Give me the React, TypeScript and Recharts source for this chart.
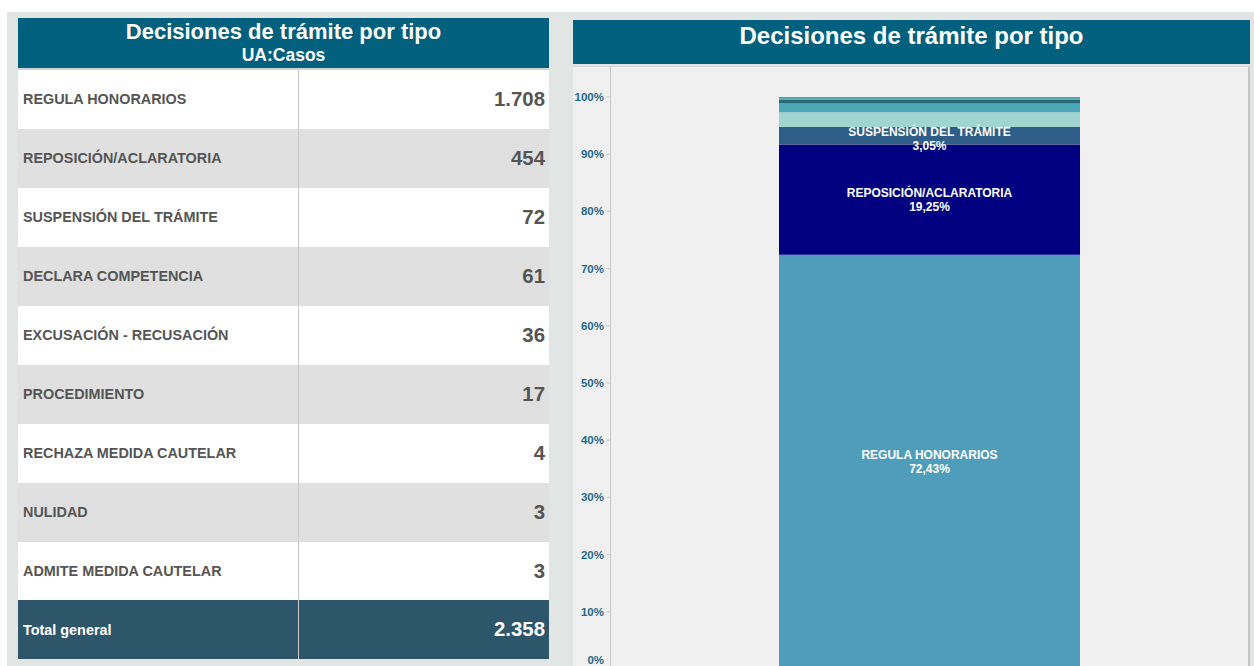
import { BarChart, Bar, XAxis, YAxis, LabelList } from "recharts";

const categories = [
  "REGULA HONORARIOS",
  "REPOSICIÓN/ACLARATORIA",
  "SUSPENSIÓN DEL TRÁMITE",
  "DECLARA COMPETENCIA",
  "EXCUSACIÓN - RECUSACIÓN",
  "PROCEDIMIENTO",
  "RECHAZA MEDIDA CAUTELAR",
  "NULIDAD",
  "ADMITE MEDIDA CAUTELAR",
];
const casos = [1708, 454, 72, 61, 36, 17, 4, 3, 3];
const labeledSegments = [0, 1, 2];
const yTicks = [0, 0.1, 0.2, 0.3, 0.4, 0.5, 0.6, 0.7, 0.8, 0.9, 1];

const colors = [
  "#4f9dba",
  "#000080",
  "#2e5e87",
  "#a1d5d2",
  "#4ba6b8",
  "#2b6876",
  "#3a9aa6",
  "#1f9aa2",
  "#1b8f9c",
];

const total = casos.reduce((a, b) => a + b, 0);
const fmtNum = (n: number) => String(n).replace(/\B(?=(\d{3})+(?!\d))/g, ".");
const fmtPct = (n: number) => ((n / total) * 100).toFixed(2).replace(".", ",") + "%";

const chartData = [
  categories.reduce(
    (row: any, _c, i) => {
      row["s" + i] = casos[i];
      return row;
    },
    { name: "Casos" }
  ),
];

const FONT = "Arial, 'Liberation Sans', sans-serif";

function segLabel(i: number) {
  return (props: any) => {
    const { x, y, width, height } = props;
    const cx = Number(x) + Number(width) / 2;
    // small segments: label sits a bit lower, like the original
    const cy = Number(y) + Number(height) / 2 + (Number(height) < 30 ? 3 : 0);
    return (
      <g>
        <text x={cx} y={cy - 3} textAnchor="middle" fill="#fff" fontSize={12} fontWeight="bold" fontFamily={FONT}>
          {categories[i]}
        </text>
        <text x={cx} y={cy + 11} textAnchor="middle" fill="#fff" fontSize={12} fontWeight="bold" fontFamily={FONT}>
          {fmtPct(casos[i])}
        </text>
      </g>
    );
  };
}

function YTick(props: any) {
  const { x, y, payload } = props;
  const shift = payload.value === 0 ? -9 : 0;
  return (
    <text
      x={x}
      y={Number(y) + shift}
      dy={4}
      textAnchor="end"
      fill="#1f6a8c"
      fontSize={11.5}
      fontWeight="bold"
      fontFamily={FONT}
    >
      {Math.round(payload.value * 100) + "%"}
    </text>
  );
}

export default function App() {
  const rowH = 59;
  return (
    <div
      style={{
        position: "absolute",
        left: 0,
        top: 0,
        width: 1254,
        height: 666,
        overflow: "hidden",
        background: "#fff",
        fontFamily: FONT,
      }}
    >
      <div style={{ position: "absolute", left: 7, top: 12, width: 1247, height: 660, background: "#e1e5e4" }} />

      {/* left table */}
      <div
        style={{
          position: "absolute",
          left: 18,
          top: 18,
          width: 531,
          height: 50,
          background: "#00607d",
          color: "#fff",
          textAlign: "center",
          fontWeight: "bold",
        }}
      >
        <div style={{ fontSize: 22, lineHeight: "26px", marginTop: 1 }}>Decisiones de trámite por tipo</div>
        <div style={{ fontSize: 17.5, lineHeight: "20px" }}>UA:Casos</div>
      </div>
      <div style={{ position: "absolute", left: 18, top: 68, width: 531, height: 2, background: "#d0d4d4" }} />
      {categories.map((c, i) => (
        <div
          key={c}
          style={{
            position: "absolute",
            left: 18,
            top: 70 + i * rowH,
            width: 531,
            height: rowH,
            background: i % 2 === 0 ? "#ffffff" : "#e0e0e0",
            color: "#555",
            fontWeight: "bold",
          }}
        >
          <div style={{ position: "absolute", left: 5, top: 0, lineHeight: rowH + "px", fontSize: 14.4 }}>{c}</div>
          <div style={{ position: "absolute", right: 4, top: 0, lineHeight: rowH + "px", fontSize: 20.4 }}>
            {fmtNum(casos[i])}
          </div>
        </div>
      ))}
      <div
        style={{
          position: "absolute",
          left: 18,
          top: 70 + categories.length * rowH - 1,
          width: 531,
          height: rowH,
          background: "#2e566b",
          color: "#fff",
          fontWeight: "bold",
        }}
      >
        <div style={{ position: "absolute", left: 5, top: 1, lineHeight: rowH + "px", fontSize: 14.4 }}>Total general</div>
        <div style={{ position: "absolute", right: 4, top: 0, lineHeight: rowH + "px", fontSize: 20.4 }}>
          {fmtNum(total)}
        </div>
      </div>
      <div style={{ position: "absolute", left: 298, top: 70, width: 1, height: 589, background: "#c8c8c8" }} />

      {/* right chart */}
      <div
        style={{
          position: "absolute",
          left: 573,
          top: 20,
          width: 677,
          height: 44,
          background: "#00607d",
          color: "#fff",
          textAlign: "center",
          fontWeight: "bold",
          fontSize: 24,
          lineHeight: "32px",
        }}
      >
        Decisiones de trámite por tipo
      </div>
      <div
        style={{
          position: "absolute",
          left: 573,
          top: 66,
          width: 675,
          height: 620,
          background: "#f0f0f0",
          borderTop: "1px solid #d6d6d6",
          borderRight: "2px solid #c4c4c4",
        }}
      />
      <div style={{ position: "absolute", left: 610, top: 67, width: 1, height: 620, background: "#c8c8c8" }} />
      <div style={{ position: "absolute", left: 573, top: 67 }}>
        <BarChart
          width={676}
          height={612}
          data={chartData}
          stackOffset="expand"
          margin={{ top: 30, right: 0, bottom: 10, left: 0 }}
        >
          <XAxis dataKey="name" hide />
          <YAxis
            width={37}
            domain={[0, 1]}
            ticks={yTicks}
            interval={0}
            axisLine={false}
            tickLine={{ stroke: "#cccccc" }}
            tickSize={4}
            tickMargin={2}
            tick={<YTick />}
          />
          {categories.map((c, i) => (
            <Bar
              key={c}
              dataKey={"s" + i}
              stackId="a"
              fill={colors[i]}
              barSize={301}
              isAnimationActive={false}
            >
              {labeledSegments.includes(i) && <LabelList dataKey={"s" + i} content={segLabel(i)} />}
            </Bar>
          ))}
        </BarChart>
      </div>
    </div>
  );
}
